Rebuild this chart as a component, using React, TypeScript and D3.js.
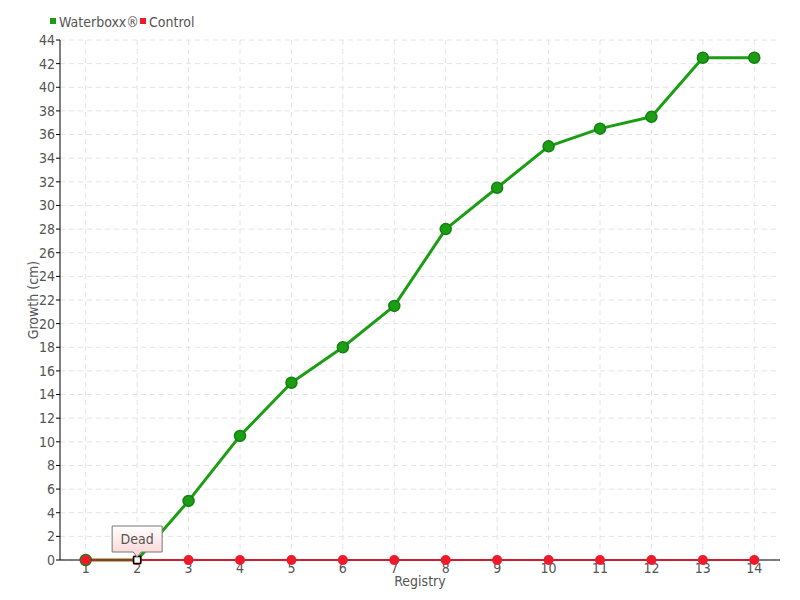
import React from "react";
import * as d3 from "d3";

const categories = ["1", "2", "3", "4", "5", "6", "7", "8", "9", "10", "11", "12", "13", "14"];
const waterboxx = [0, 0, 5, 10.5, 15, 18, 21.5, 28, 31.5, 35, 36.5, 37.5, 42.5, 42.5];
const control = [0, 0, 0, 0, 0, 0, 0, 0, 0, 0, 0, 0, 0, 0];
const yTicks = d3.range(0, 45, 2);
const deadIndex = 1;
const deadLabel = "Dead";

const W = 800, H = 600;
const left = 60, right = 780, top = 40, bottom = 560;
const FONT = "'DejaVu Sans', sans-serif";

export default function App() {
  const x = d3.scalePoint<string>().domain(categories).range([left, right]).padding(0.5);
  const y = d3.scaleLinear().domain([0, 44]).range([bottom, top]);
  const line = d3.line<number>().x((_, i) => x(categories[i])!).y((d) => y(d));
  const dx = x(categories[deadIndex])!;
  const dy = y(waterboxx[deadIndex]);
  return (
    <svg width={W} height={H} style={{ position: "absolute", left: 0, top: 0, fontStretch: "condensed" }} fontFamily={FONT}>
      <defs>
        <linearGradient id="tipg" x1="0" y1="0" x2="0" y2="1">
          <stop offset="0" stopColor="#ffffff" />
          <stop offset="1" stopColor="#fbd3d3" />
        </linearGradient>
      </defs>
      <rect width={W} height={H} fill="#fff" />
      {/* grid */}
      {yTicks.map((t) => (
        <line key={"h" + t} x1={left} x2={right} y1={y(t)} y2={y(t)} stroke="#e4e4e4" strokeDasharray="5,4" />
      ))}
      {categories.map((c) => (
        <line key={"v" + c} x1={x(c)} x2={x(c)} y1={top} y2={bottom} stroke="#e4e4e4" strokeDasharray="5,4" />
      ))}
      {/* axes */}
      <line x1={left} x2={left} y1={top} y2={bottom} stroke="#000" />
      <line x1={left} x2={right} y1={bottom} y2={bottom} stroke="#000" />
      {yTicks.map((t) => (
        <g key={"yt" + t}>
          <line x1={left - 4} x2={left} y1={y(t)} y2={y(t)} stroke="#000" />
          <text x={left - 5} y={y(t)} dy="0.35em" textAnchor="end" fontSize={14} fill="#555">{t}</text>
        </g>
      ))}
      {categories.map((c) => (
        <text key={"xt" + c} x={x(c)} y={bottom + 13} textAnchor="middle" fontSize={14} fill="#555">{c}</text>
      ))}
      <text x={420} y={586} textAnchor="middle" fontSize={14} fill="#555">Registry</text>
      <text transform={`translate(38,${(top + bottom) / 2}) rotate(-90)`} textAnchor="middle" fontSize={14} fill="#555">Growth (cm)</text>
      {/* waterboxx */}
      <path d={line(waterboxx)!} fill="none" stroke="#1c9e14" strokeWidth={3} strokeLinejoin="round" />
      {waterboxx.map((v, i) =>
        i === deadIndex ? null : (
          <circle key={"w" + i} cx={x(categories[i])} cy={y(v)} r={5.5} fill="#1c9e14" stroke="#138010" strokeWidth={1.5} />
        )
      )}
      {/* control */}
      <path d={line(control)!} fill="none" stroke="#e8001c" strokeWidth={1.5} />
      {control.map((v, i) => (
        <circle key={"c" + i} cx={x(categories[i])} cy={y(v)} r={5} fill="#ee1a2c" />
      ))}
      {/* dead marker */}
      <rect x={dx - 3.5} y={dy - 3.5} width={7} height={7} fill="#fff" stroke="#000" strokeWidth={1.5} />
      <path
        d={`M${dx - 25},${dy - 34} H${dx + 25} V${dy - 8} H${dx + 4} L${dx},${dy - 3} L${dx - 4},${dy - 8} H${dx - 25} Z`}
        fill="url(#tipg)"
        stroke="#777"
        strokeWidth={1}
      />
      <text x={dx} y={dy - 16} textAnchor="middle" fontSize={14} fill="#555">{deadLabel}</text>
      {/* legend */}
      <rect x={50} y={18} width={6} height={6} fill="#1c9e14" />
      <text x={59} y={27} fontSize={14} fill="#555">Waterboxx®</text>
      <rect x={140} y={18} width={6} height={6} fill="#ee1a2c" />
      <text x={149} y={27} fontSize={14} fill="#555">Control</text>
    </svg>
  );
}
